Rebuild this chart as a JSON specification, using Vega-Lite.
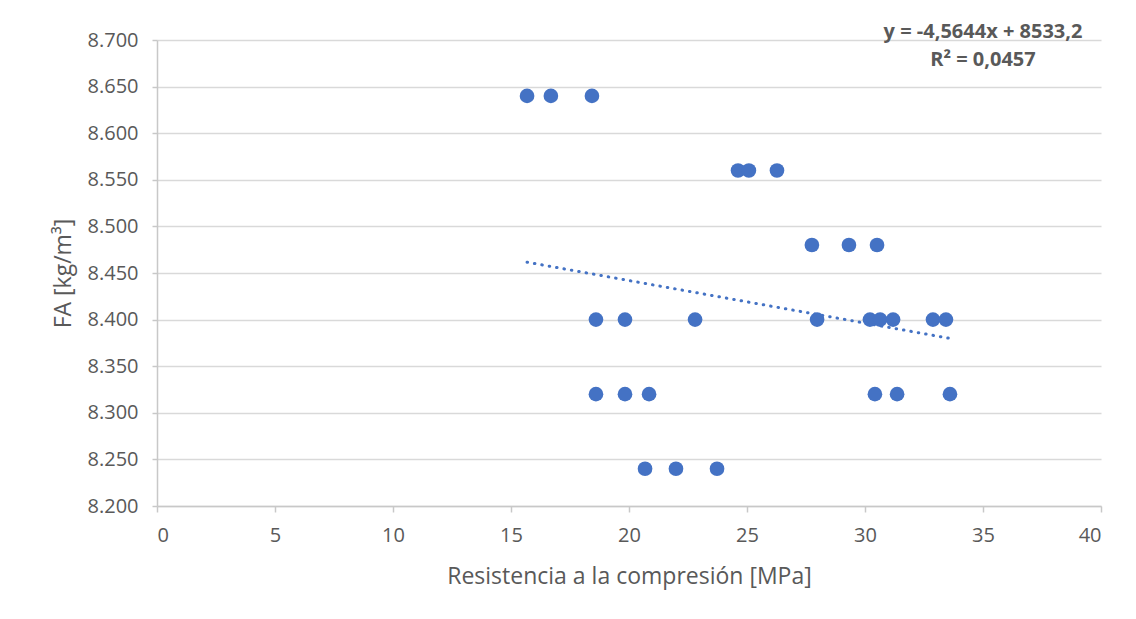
{
  "$schema": "https://vega.github.io/schema/vega-lite/v6.json",
  "autosize": {"type": "none"},
  "width": 944,
  "height": 466,
  "padding": {"left": 157, "top": 40, "right": 35, "bottom": 113},
  "background": "white",
  "config": {
    "view": {"stroke": null},
    "font": "Open Sans",
    "axis": {
      "labelFont": "Open Sans",
      "titleFont": "Open Sans",
      "labelColor": "#595959",
      "titleColor": "#595959",
      "labelFontSize": 20,
      "titleFontSize": 23,
      "titleFontWeight": "normal",
      "domainColor": "#c8c8c8",
      "domainWidth": 1.5,
      "tickColor": "#c8c8c8",
      "tickWidth": 1.5,
      "tickSize": 6,
      "gridColor": "#d9d9d9",
      "gridWidth": 1.5
    }
  },
  "datasets": {
    "muestras": [
      {"resistencia": 15.68, "fa": 8640},
      {"resistencia": 16.69, "fa": 8640},
      {"resistencia": 18.43, "fa": 8640},
      {"resistencia": 24.62, "fa": 8560},
      {"resistencia": 25.08, "fa": 8560},
      {"resistencia": 26.27, "fa": 8560},
      {"resistencia": 27.75, "fa": 8480},
      {"resistencia": 29.32, "fa": 8480},
      {"resistencia": 30.51, "fa": 8480},
      {"resistencia": 18.6, "fa": 8400},
      {"resistencia": 19.83, "fa": 8400},
      {"resistencia": 22.8, "fa": 8400},
      {"resistencia": 27.97, "fa": 8400},
      {"resistencia": 30.21, "fa": 8400},
      {"resistencia": 30.64, "fa": 8400},
      {"resistencia": 31.19, "fa": 8400},
      {"resistencia": 32.88, "fa": 8400},
      {"resistencia": 33.43, "fa": 8400},
      {"resistencia": 18.6, "fa": 8320},
      {"resistencia": 19.83, "fa": 8320},
      {"resistencia": 20.85, "fa": 8320},
      {"resistencia": 30.42, "fa": 8320},
      {"resistencia": 31.36, "fa": 8320},
      {"resistencia": 33.6, "fa": 8320},
      {"resistencia": 20.68, "fa": 8240},
      {"resistencia": 21.99, "fa": 8240},
      {"resistencia": 23.73, "fa": 8240}
    ],
    "tendencia": [
      {"resistencia": 15.68, "fa": 8461.63},
      {"resistencia": 33.6, "fa": 8379.84}
    ],
    "ecuacion": [
      {"linea": "y = -4,5644x + 8533,2", "fa": 8708.5},
      {"linea": "R² = 0,0457", "fa": 8678.5}
    ]
  },
  "layer": [
    {
      "data": {"name": "muestras"},
      "mark": {"type": "point", "filled": true, "opacity": 1, "size": 215, "color": "#4472C4"},
      "encoding": {
        "x": {
          "field": "resistencia",
          "type": "quantitative",
          "scale": {"domain": [0, 40], "nice": false},
          "axis": {
            "title": "Resistencia a la compresión [MPa]",
            "values": [0, 5, 10, 15, 20, 25, 30, 35, 40],
            "grid": false,
            "labelPadding": 13,
            "titlePadding": 20
          }
        },
        "y": {
          "field": "fa",
          "type": "quantitative",
          "scale": {"domain": [8200, 8700], "nice": false, "zero": false},
          "axis": {
            "title": "FA [kg/m³]",
            "values": [8200, 8250, 8300, 8350, 8400, 8450, 8500, 8550, 8600, 8650, 8700],
            "labelExpr": "replace(format(datum.value, ',d'), ',', '.')",
            "labelPadding": 14,
            "titlePadding": 12,
            "tickSize": 5
          }
        }
      }
    },
    {
      "data": {"name": "tendencia"},
      "mark": {"type": "line", "color": "#4472C4", "strokeWidth": 3, "strokeDash": [0.5, 7], "strokeCap": "round"},
      "encoding": {
        "x": {"field": "resistencia", "type": "quantitative"},
        "y": {"field": "fa", "type": "quantitative"}
      }
    },
    {
      "data": {"name": "ecuacion"},
      "mark": {"type": "text", "fontWeight": "bold", "fontSize": 20, "color": "#595959", "align": "center", "baseline": "middle", "clip": false},
      "encoding": {
        "text": {"field": "linea"},
        "x": {"datum": 35, "type": "quantitative"},
        "y": {"field": "fa", "type": "quantitative"}
      }
    }
  ]
}
